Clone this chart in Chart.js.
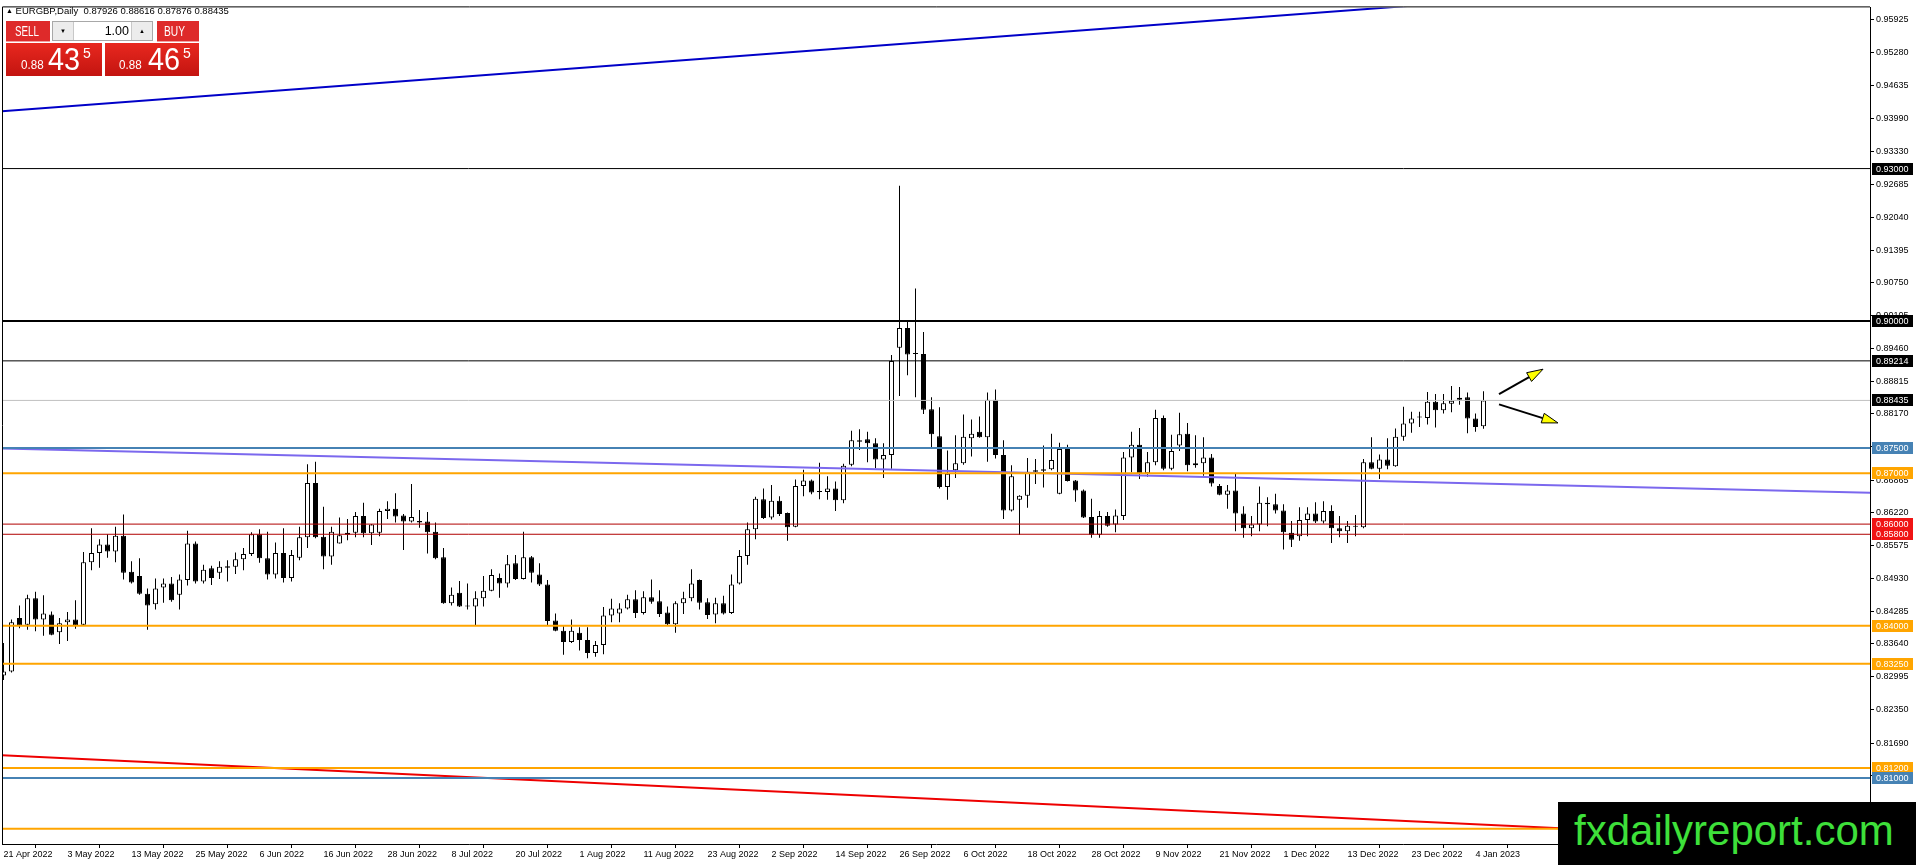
<!DOCTYPE html>
<html lang="en">
<head>
<meta charset="UTF-8">
<title>EURGBP,Daily</title>
<script src="https://cdn.jsdelivr.net/npm/chart.js@4.4.0/dist/chart.umd.min.js"></script>
<style>
    body { margin: 0; background: #fff; font-family: "Liberation Sans", Arial, sans-serif; }
    #wrap { position: relative; width: 1916px; height: 865px; overflow: hidden; }
    #wrap canvas { position: absolute; left: 0; top: 0; }
    .hdr { position: absolute; left: 6px; top: 5px; font-size: 9.5px; line-height: 12px; color: #000; white-space: pre; }
    .hdr .tri { font-size: 7px; vertical-align: 1px; }
    .btn { position: absolute; top: 21px; height: 20px; line-height: 20px; color: #fff; font-size: 14px;
           background: #de2a2a; border-bottom: 1px solid #f3a0a0; }
    .btn span { position: absolute; top: 0; transform-origin: left center; white-space: nowrap; }
    .sell { left: 6px; width: 44px; }
    .sell span { left: 9px; transform: scaleX(0.7); }
    .buy { left: 157px; width: 42px; }
    .buy span { left: 7px; transform: scaleX(0.73); }
    .spin { position: absolute; left: 52px; top: 21px; width: 99px; height: 18px; border: 1px solid #a8a8a8; background: #fff; }
    .spin .sb { position: absolute; top: 0; width: 20px; height: 18px; background: #ececec; font-size: 6px; line-height: 18px; text-align: center; color: #000; }
    .spin .dn { left: 0; border-right: 1px solid #c8c8c8; }
    .spin .up { right: 0; border-left: 1px solid #c8c8c8; }
    .spin .lot { position: absolute; right: 23px; top: 0; font-size: 12.5px; line-height: 18px; color: #000; }
    .px { position: absolute; top: 43px; height: 33px; color: #fff; background: linear-gradient(#e8281f, #c31410); }
    .px span { position: absolute; line-height: 1; transform-origin: left top; white-space: nowrap; }
    .px .lo { top: 15px; font-size: 13.5px; transform: scaleX(0.86); }
    .px .hi { top: 0; font-size: 32px; transform: scaleX(0.9); }
    .px .sp { top: 3px; font-size: 14px; }
    .wm { position: absolute; left: 1558px; top: 802px; width: 358px; height: 63px; background: #000; }
    .wm span { position: absolute; left: 16px; top: 8px; font-size: 42px; line-height: 1; color: #3ee03a; white-space: nowrap; }
</style>
</head>
<body>
<div id="wrap">
    <canvas id="chart" width="1916" height="865"></canvas>
    <div class="hdr"><span class="tri">▲</span> EURGBP,Daily  0.87926 0.88616 0.87876 0.88435</div>
    <div class="btn sell"><span>SELL</span></div>
    <div class="spin"><div class="sb dn">▼</div><div class="lot">1.00</div><div class="sb up">▲</div></div>
    <div class="btn buy"><span>BUY</span></div>
    <div class="px" style="left:6px;width:96px"><span class="lo" style="left:15px">0.88</span><span class="hi" style="left:42px">43</span><span class="sp" style="left:77px">5</span></div>
    <div class="px" style="left:105px;width:94px"><span class="lo" style="left:14px">0.88</span><span class="hi" style="left:43px">46</span><span class="sp" style="left:78px">5</span></div>
    <div class="wm"><span>fxdailyreport.com</span></div>
</div>
<script>
    // daily candles, index 0 = 21 Apr 2022 ... 185 = 5 Jan 2023
    const opens = [
        0.8302,0.8310,0.8415,0.8402,0.8454,0.8412,0.8422,0.8387,0.8407,0.8412,
        0.8402,0.8525,0.8543,0.8560,0.8546,0.8577,0.8506,0.8498,0.8463,0.8442,
        0.8475,0.8483,0.8461,0.8490,0.8562,0.8487,0.8513,0.8504,0.8517,0.8516,
        0.8531,0.8541,0.8580,0.8533,0.8501,0.8543,0.8494,0.8534,0.8574,0.8681,
        0.8575,0.8536,0.8562,0.8583,0.8583,0.8616,0.8582,0.8583,0.8626,0.8630,
        0.8617,0.8605,0.8606,0.8605,0.8585,0.8535,0.8444,0.8465,0.8439,0.8438,
        0.8454,0.8469,0.8494,0.8483,0.8523,0.8492,0.8535,0.8501,0.8481,0.8410,
        0.8390,0.8368,0.8386,0.8372,0.8346,0.8362,0.8420,0.8424,0.8434,0.8452,
        0.8425,0.8456,0.8448,0.8426,0.8403,0.8444,0.8454,0.8490,0.8446,0.8422,
        0.8444,0.8425,0.8483,0.8537,0.8590,0.8649,0.8613,0.8646,0.8622,0.8595,
        0.8675,0.8686,0.8664,0.8663,0.8670,0.8647,0.8717,0.8762,0.8767,0.8759,
        0.8727,0.8736,0.8947,0.8986,0.8936,0.8935,0.8826,0.8773,0.8673,0.8706,
        0.8720,0.8769,0.8782,0.8771,0.8845,0.8736,0.8627,0.8648,0.8656,0.8703,
        0.8708,0.8708,0.8660,0.8748,0.8686,0.8666,0.8614,0.8579,0.8616,0.8599,
        0.8616,0.8731,0.8756,0.8700,0.8722,0.8809,0.8709,0.8755,0.8778,0.8716,
        0.8720,0.8731,0.8675,0.8658,0.8666,0.8621,0.8592,0.8599,0.8642,0.8639,
        0.8627,0.8583,0.8576,0.8608,0.8621,0.8605,0.8626,0.8592,0.8586,0.8596,
        0.8594,0.8722,0.8709,0.8727,0.8714,0.8772,0.8798,0.8810,0.8809,0.8841,
        0.8824,0.8837,0.8845,0.8850,0.8808,0.87926
    ];
    const highs = [
        0.8366,0.8412,0.8440,0.8461,0.8467,0.8460,0.8428,0.8415,0.8427,0.8450,
        0.8545,0.8592,0.8570,0.8580,0.8595,0.8619,0.8527,0.8533,0.8473,0.8493,
        0.8493,0.8496,0.8501,0.8587,0.8566,0.8520,0.8518,0.8527,0.8529,0.8544,
        0.8553,0.8584,0.8590,0.8585,0.8564,0.8592,0.8549,0.8595,0.8718,0.8723,
        0.8634,0.8595,0.8613,0.8610,0.8624,0.8642,0.8600,0.8630,0.8645,0.8661,
        0.8620,0.8679,0.8628,0.8624,0.8603,0.8553,0.8475,0.8488,0.8483,0.8468,
        0.8498,0.8511,0.8503,0.8539,0.8539,0.8585,0.8537,0.8523,0.8490,0.8424,
        0.8399,0.8412,0.8397,0.8397,0.8370,0.8437,0.8453,0.8444,0.8461,0.8470,
        0.8468,0.8491,0.8470,0.8438,0.8448,0.8467,0.8511,0.8491,0.8454,0.8455,
        0.8459,0.8501,0.8549,0.8603,0.8654,0.8670,0.8677,0.8655,0.8623,0.8688,
        0.8707,0.8688,0.8721,0.8694,0.8684,0.8719,0.8784,0.8787,0.8782,0.8769,
        0.8759,0.8933,0.9266,0.8999,0.9064,0.8978,0.8850,0.8830,0.8745,0.8775,
        0.8816,0.8806,0.8812,0.8859,0.8865,0.8765,0.8716,0.8657,0.8730,0.8728,
        0.8755,0.8778,0.8760,0.8756,0.8687,0.8668,0.8650,0.8626,0.8624,0.8629,
        0.8742,0.8782,0.8789,0.8742,0.8825,0.8814,0.8776,0.8819,0.8799,0.8775,
        0.8771,0.8738,0.8679,0.8677,0.8700,0.8635,0.8616,0.8674,0.8653,0.8660,
        0.8639,0.8606,0.8633,0.8633,0.8643,0.8645,0.8637,0.8616,0.8606,0.8618,
        0.8728,0.8771,0.8737,0.8769,0.8788,0.8831,0.8821,0.8821,0.8860,0.8856,
        0.8856,0.8872,0.8870,0.8859,0.8818,0.88616
    ];
    const lows = [
        0.8293,0.8308,0.8395,0.8392,0.8389,0.8380,0.8381,0.8364,0.8370,0.8394,
        0.8401,0.8509,0.8514,0.8534,0.8525,0.8491,0.8483,0.8461,0.8392,0.8432,
        0.8445,0.8447,0.8432,0.8479,0.8483,0.8483,0.8480,0.8492,0.8487,0.8502,
        0.8509,0.8537,0.8524,0.8491,0.8493,0.8485,0.8487,0.8529,0.8553,0.8572,
        0.8511,0.8520,0.8562,0.8568,0.8574,0.8574,0.8559,0.8576,0.8610,0.8603,
        0.8549,0.8603,0.8593,0.8542,0.8531,0.8443,0.8440,0.8437,0.8432,0.8401,
        0.8438,0.8468,0.8455,0.8475,0.8490,0.8491,0.8485,0.8478,0.8401,0.8389,
        0.8343,0.8366,0.8351,0.8336,0.8339,0.8344,0.8407,0.8407,0.8432,0.8415,
        0.8422,0.8443,0.8417,0.8401,0.8386,0.8423,0.8448,0.8432,0.8413,0.8405,
        0.8422,0.8423,0.8481,0.8520,0.8570,0.8610,0.8609,0.8616,0.8567,0.8594,
        0.8655,0.8659,0.8649,0.8648,0.8626,0.8641,0.8714,0.8746,0.8722,0.8710,
        0.8691,0.8709,0.8852,0.8893,0.8850,0.8817,0.8751,0.8670,0.8648,0.8691,
        0.8717,0.8733,0.8770,0.8723,0.8729,0.8610,0.8625,0.8579,0.8632,0.8679,
        0.8672,0.8706,0.8659,0.8684,0.8644,0.8612,0.8573,0.8573,0.8595,0.8584,
        0.8608,0.8702,0.8689,0.8693,0.8716,0.8706,0.8706,0.8744,0.8704,0.8711,
        0.8695,0.8674,0.8657,0.8630,0.8586,0.8573,0.8576,0.8586,0.8596,0.8621,
        0.8550,0.8555,0.8567,0.8576,0.8602,0.8601,0.8563,0.8574,0.8563,0.8576,
        0.8592,0.8708,0.8689,0.8708,0.8713,0.8764,0.8780,0.8791,0.8796,0.8790,
        0.8818,0.8820,0.8835,0.8779,0.8782,0.87876
    ];
    const closes = [
        0.8310,0.8407,0.8401,0.8454,0.8412,0.8424,0.8382,0.8405,0.8412,0.8401,
        0.8525,0.8543,0.8560,0.8546,0.8577,0.8504,0.8485,0.8463,0.8440,0.8473,
        0.8483,0.8450,0.8491,0.8562,0.8487,0.8510,0.8494,0.8516,0.8514,0.8531,
        0.8541,0.8580,0.8533,0.8501,0.8543,0.8494,0.8539,0.8574,0.8681,0.8574,
        0.8536,0.8585,0.8578,0.8579,0.8616,0.8582,0.8599,0.8626,0.8630,0.8615,
        0.8605,0.8614,0.8603,0.8584,0.8533,0.8444,0.8461,0.8438,0.8438,0.8454,
        0.8469,0.8500,0.8483,0.8521,0.8492,0.8535,0.8504,0.8481,0.8409,0.8390,
        0.8368,0.8390,0.8372,0.8346,0.8362,0.8420,0.8434,0.8434,0.8452,0.8425,
        0.8456,0.8447,0.8423,0.8403,0.8444,0.8454,0.8483,0.8445,0.8421,0.8444,
        0.8424,0.8481,0.8537,0.8590,0.8650,0.8612,0.8646,0.8620,0.8594,0.8675,
        0.8686,0.8662,0.8663,0.8670,0.8647,0.8715,0.8765,0.8765,0.8759,0.8727,
        0.8736,0.8921,0.8986,0.8934,0.8935,0.8825,0.8777,0.8673,0.8699,0.8720,
        0.8772,0.8778,0.8771,0.8845,0.8736,0.8627,0.8694,0.8656,0.8703,0.8706,
        0.8705,0.8726,0.8748,0.8685,0.8666,0.8613,0.8579,0.8616,0.8597,0.8617,
        0.8731,0.8756,0.8700,0.8722,0.8809,0.8709,0.8744,0.8777,0.8716,0.8720,
        0.8731,0.8680,0.8658,0.8666,0.8621,0.8592,0.8599,0.8642,0.8639,0.8627,
        0.8584,0.8569,0.8608,0.8621,0.8605,0.8626,0.8592,0.8586,0.8597,0.8595,
        0.8722,0.8709,0.8727,0.8715,0.8772,0.8798,0.8808,0.8811,0.8841,0.8824,
        0.8838,0.8843,0.8849,0.8808,0.8791,0.88435
    ];

    // time axis labels (one every 8 bars)
    const dateIdx = [0, 8, 16, 24, 32, 40, 48, 56, 64, 72, 80, 88, 96, 104, 112, 120, 128, 136, 144, 152, 160, 168, 176, 184];
    const dateLabels = ['21 Apr 2022', '3 May 2022', '13 May 2022', '25 May 2022', '6 Jun 2022', '16 Jun 2022',
        '28 Jun 2022', '8 Jul 2022', '20 Jul 2022', '1 Aug 2022', '11 Aug 2022', '23 Aug 2022', '2 Sep 2022',
        '14 Sep 2022', '26 Sep 2022', '6 Oct 2022', '18 Oct 2022', '28 Oct 2022', '9 Nov 2022', '21 Nov 2022',
        '1 Dec 2022', '13 Dec 2022', '23 Dec 2022', '4 Jan 2023'];

    // price axis ticks
    const priceTicks = [0.95925, 0.95280, 0.94635, 0.93990, 0.93330, 0.92685, 0.92040, 0.91395, 0.90750, 0.90105,
        0.89460, 0.88815, 0.88170, 0.87525, 0.86865, 0.86220, 0.85575, 0.84930, 0.84285, 0.83640,
        0.82995, 0.82350, 0.81690, 0.81045, 0.80400];

    // horizontal levels and their axis tags
    const levelPrices = [0.93000, 0.90000, 0.89214, 0.88435, 0.87500, 0.87000, 0.86000, 0.85800, 0.84000, 0.83250, 0.81200, 0.81000, 0.80000];
    const levelColors = ['#000000', '#000000', '#000000', '#c0c0c0', '#4682b4', '#ffa500', '#b00000', '#b00000', '#ffa500', '#ffa500', '#ffa500', '#4682b4', '#ffa500'];
    const levelWidths = [1, 2, 1, 1, 2, 2, 1, 1, 2, 2, 2, 2, 2];
    const tagColors = ['#000000', '#000000', '#000000', '#000000', '#4682b4', '#ffa500', '#f01414', '#f01414', '#ffa500', '#ffa500', '#ffa500', '#4682b4', '#ffa500'];

    // trend lines [barIndex, price]
    const blueTrend = [[-0.44, 0.94124], [180, 0.96254]];
    const redTrend = [[-0.44, 0.81451], [233.4, 0.79727]];
    const purpleTrend = [[-0.44, 0.87489], [233.4, 0.86615]];

    // arrows [fromBar, fromPrice, toBar, toPrice]
    const arrows = [[186.94, 0.88560, 192.44, 0.89050], [186.94, 0.88358, 194.31, 0.87992]];

    const xMin = -0.1875;
    const xMax = xMin + 1868 / 8;
    const yMin = 0.79702;
    const yMax = 0.96173;

    Chart.defaults.font.family = '"Liberation Sans", Arial, sans-serif';
    Chart.defaults.font.size = 9;
    Chart.defaults.color = '#000';

    const wickData = opens.map((o, i) => ({ x: i, y: [lows[i], highs[i]] }));
    const bodyData = opens.map((o, i) => ({ x: i, y: [o, closes[i]] }));
    const bodyFill = opens.map((o, i) => closes[i] >= o ? '#ffffff' : '#000000');

    function lineSet(points, color, width) {
        return {
            type: 'line',
            data: points.map(p => ({ x: p[0], y: p[1] })),
            borderColor: color,
            borderWidth: width,
            pointRadius: 0,
            fill: false,
            tension: 0,
            order: 0
        };
    }

    const datasets = [
        {
            type: 'bar', data: bodyData, grouped: false, barThickness: 5, minBarLength: 1,
            backgroundColor: bodyFill, borderColor: '#000', borderWidth: 1, borderSkipped: false,
            inflateAmount: 0, order: 1
        },
        {
            type: 'bar', data: wickData, grouped: false, barThickness: 1,
            backgroundColor: '#000', borderWidth: 0, inflateAmount: 0, order: 2
        }
    ];
    levelPrices.forEach((v, i) => {
        datasets.push(lineSet([[xMin - 1, v], [xMax + 1, v]], levelColors[i], levelWidths[i]));
    });
    datasets.push(lineSet(purpleTrend, '#7b68ee', 2));
    datasets.push(lineSet(blueTrend, '#0000c8', 2));
    datasets.push(lineSet(redTrend, '#ee0000', 2));

    const overlay = {
        id: 'overlay',
        afterDatasetsDraw(chart) {
            const { ctx, chartArea: a, scales: { x, y } } = chart;
            ctx.save();
            // frame on top and left
            ctx.strokeStyle = '#000';
            ctx.lineWidth = 1;
            ctx.beginPath();
            ctx.moveTo(a.left + 0.5, a.bottom);
            ctx.lineTo(a.left + 0.5, a.top - 0.5);
            ctx.lineTo(a.right, a.top - 0.5);
            ctx.stroke();

            // arrows
            arrows.forEach(([b0, p0, b1, p1]) => {
                const x0 = x.getPixelForValue(b0), y0 = y.getPixelForValue(p0);
                const x1 = x.getPixelForValue(b1), y1 = y.getPixelForValue(p1);
                const len = Math.hypot(x1 - x0, y1 - y0);
                const ux = (x1 - x0) / len, uy = (y1 - y0) / len;
                const bx = x1 - ux * 16, by = y1 - uy * 16;
                ctx.strokeStyle = '#000';
                ctx.lineWidth = 2;
                ctx.beginPath();
                ctx.moveTo(x0, y0);
                ctx.lineTo(bx, by);
                ctx.stroke();
                ctx.lineWidth = 1;
                ctx.fillStyle = '#ffff00';
                ctx.beginPath();
                ctx.moveTo(x1, y1);
                ctx.lineTo(bx - uy * 5, by + ux * 5);
                ctx.lineTo(bx + uy * 5, by - ux * 5);
                ctx.closePath();
                ctx.fill();
                ctx.stroke();
            });

            // price tags on the axis
            ctx.font = '9px "Liberation Sans", Arial, sans-serif';
            ctx.textBaseline = 'middle';
            ctx.textAlign = 'left';
            levelPrices.forEach((v, i) => {
                const py = Math.round(y.getPixelForValue(v));
                ctx.fillStyle = tagColors[i];
                ctx.fillRect(a.right + 2, py - 6, 41, 12);
                ctx.fillStyle = '#ffffff';
                ctx.fillText(v.toFixed(5), a.right + 6, py + 0.5);
            });
            ctx.restore();
        }
    };

    new Chart(document.getElementById('chart'), {
        type: 'bar',
        data: { datasets },
        options: {
            responsive: false,
            devicePixelRatio: 1,
            animation: false,
            layout: { padding: { top: 3, left: 2, right: 0, bottom: 0 } },
            plugins: { legend: { display: false }, tooltip: { enabled: false }, title: { display: false } },
            scales: {
                x: {
                    type: 'linear', min: xMin, max: xMax, offset: false,
                    afterFit: s => { s.height = 21; },
                    afterBuildTicks: s => { s.ticks = dateIdx.map(v => ({ value: v })); },
                    grid: { display: true, drawOnChartArea: false, drawTicks: true, tickLength: 4, color: '#000' },
                    border: { display: true, color: '#000' },
                    ticks: {
                        autoSkip: false, maxRotation: 0, align: 'start', padding: 1,
                        callback: (v, i) => dateLabels[i]
                    }
                },
                y: {
                    type: 'linear', position: 'right', min: yMin, max: yMax,
                    afterFit: s => { s.width = 46; },
                    afterBuildTicks: s => { s.ticks = priceTicks.map(v => ({ value: v })); },
                    grid: { display: true, drawOnChartArea: false, drawTicks: true, tickLength: 4, color: '#000' },
                    border: { display: true, color: '#000' },
                    ticks: { autoSkip: false, padding: 2, callback: v => v.toFixed(5) }
                }
            }
        },
        plugins: [overlay]
    });
</script>
</body>
</html>
